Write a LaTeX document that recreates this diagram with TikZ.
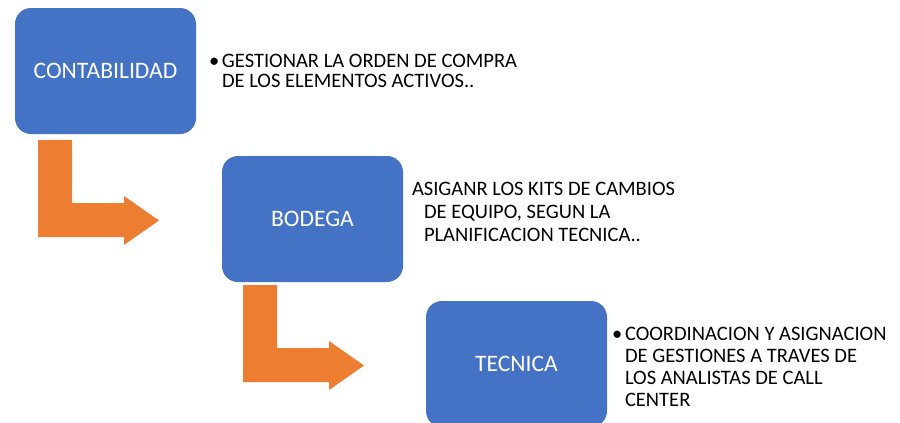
\documentclass[tikz,border=0pt]{standalone}
\usepackage{fontspec}
\setmainfont{Carlito}
\usetikzlibrary{positioning, calc}
\definecolor{boxblue}{HTML}{4472C4}
\definecolor{arroworange}{HTML}{ED7D31}
\tikzset{
unit/.style = {rectangle, rounded corners = 12pt, fill = boxblue, text = white,
   minimum width = 135.75pt, minimum height = 94.5pt, inner sep = 0pt,
   outer sep = 0pt, font = \fontsize{17.7}{21}\selectfont},
desc/.style = {anchor = base west, inner sep = 0pt, outer sep = 0pt,
   font = \fontsize{15.4}{16.5}\selectfont},
blockarrow/.style = {fill = arroworange, draw = none}
}

\begin{document}
\begin{tikzpicture}[x = 0.75pt, y = -0.75pt]
\useasboundingbox (0,0) rectangle (900,422);

%% Units
\node [unit] (B1) at (105.5,71) {CONTABILIDAD};
\node [unit] (B2) [below right = 16.5pt and 19.5pt of B1] {BODEGA};
\node [unit] (B3) [below right = 14.25pt and 17.25pt of B2] {TECNICA};

%% Tasks
\node [desc, font = \fontsize{15.4}{15}\selectfont] (T1) at ($(B1.north east)+(13,59.7)$)
   {\makebox[9.75pt][l]{\textbullet}\begin{tabular}[t]{@{}l@{}}GESTIONAR LA ORDEN DE COMPRA\\
   DE LOS ELEMENTOS ACTIVOS..\end{tabular}};
\node [desc, font = \fontsize{15.4}{17.25}\selectfont] (T2) at ($(B2.north east)+(9,39.7)$)
   {\begin{tabular}[t]{@{}l@{}}ASIGANR LOS KITS DE CAMBIOS\\
   \hspace*{9pt}DE EQUIPO, SEGUN LA\\
   \hspace*{9pt}PLANIFICACION TECNICA..\end{tabular}};
\node [desc] (T3) at ($(B3.north east)+(5,39.7)$)
   {\makebox[9.75pt][l]{\textbullet}\begin{tabular}[t]{@{}l@{}}COORDINACION Y ASIGNACION\\
   DE GESTIONES A TRAVES DE\\
   LOS ANALISTAS DE CALL\\
   CENTER\end{tabular}};

%% Bent arrows between units
\coordinate (a1) at ($(B1.south west)+(23,6)$);
\coordinate (a2) at ($(B2.south west)+(21,3)$);
\foreach \a in {a1, a2}
   \fill [blockarrow] (\a) -- ++(34,0) -- ++(0,63) -- ++(52,0) -- ++(0,-7)
      -- ++(35,24.5) -- ++(-35,24.5) -- ++(0,-8) -- ++(-86,0) -- cycle;

\end{tikzpicture}
\end{document}
